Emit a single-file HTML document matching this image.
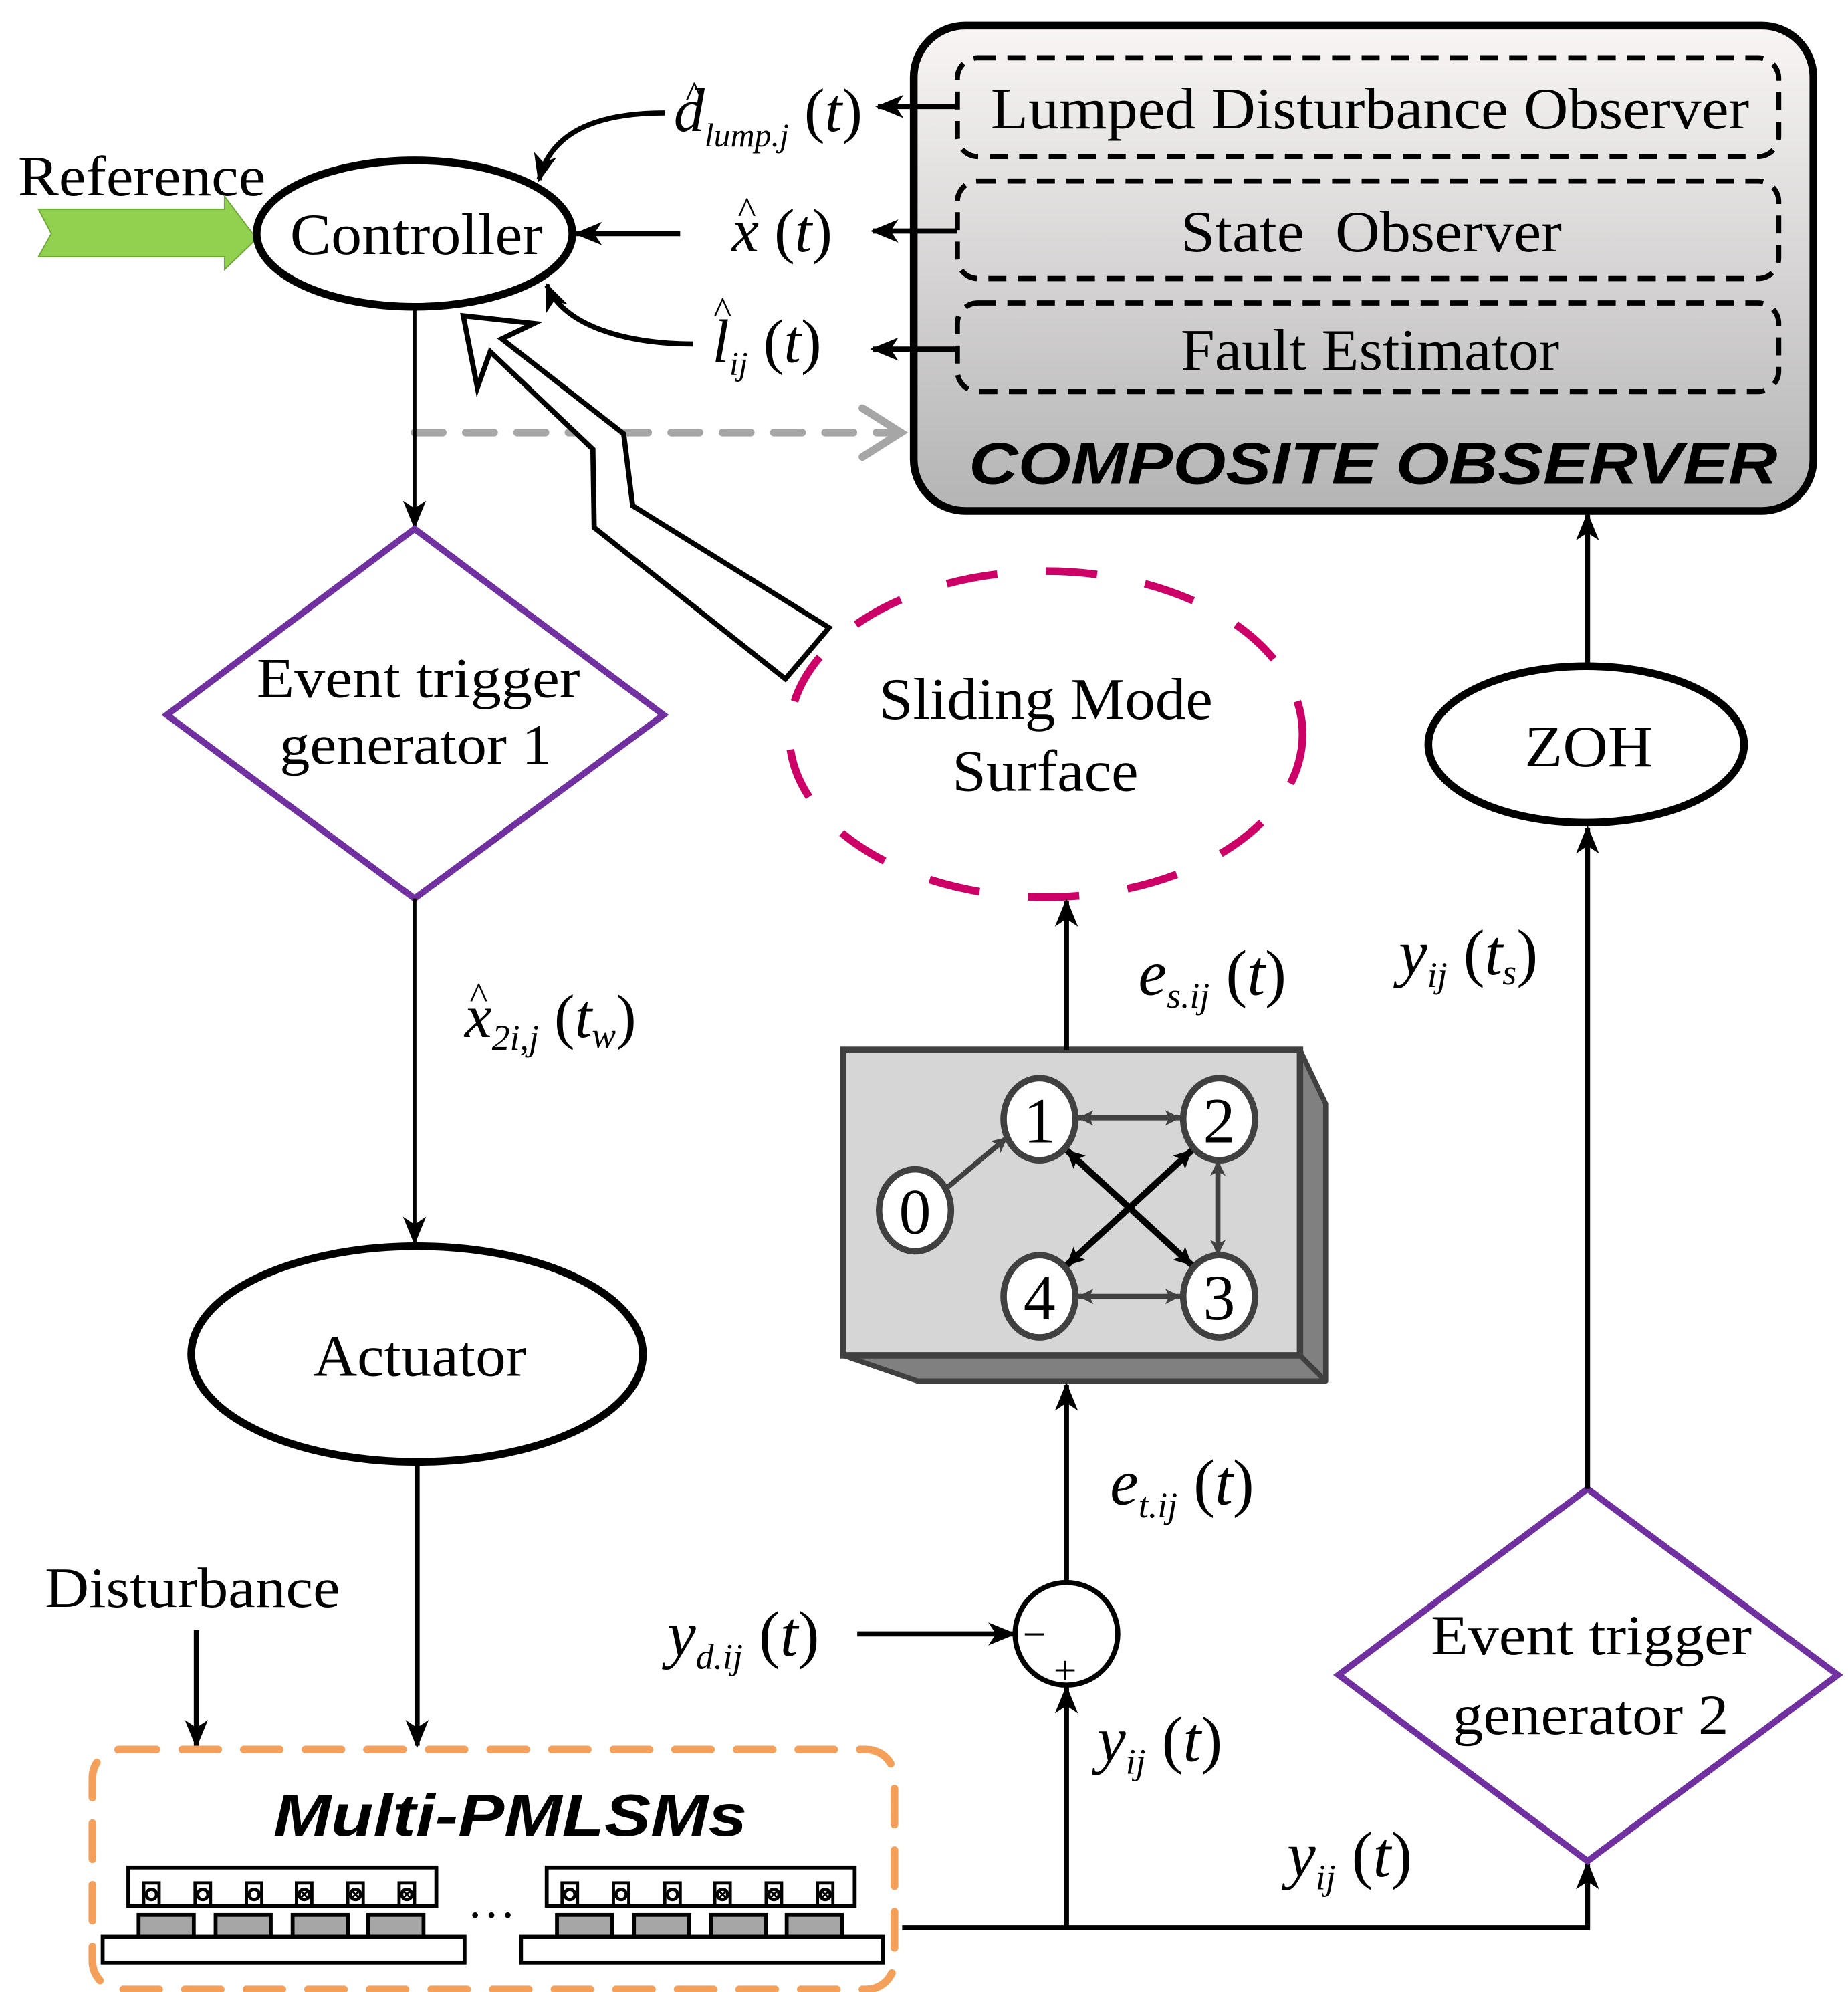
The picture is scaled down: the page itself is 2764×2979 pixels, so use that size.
<!DOCTYPE html>
<html><head><meta charset="utf-8"><style>
html,body{margin:0;padding:0;background:#fff}
svg{display:block}
text{font-family:"Liberation Serif",serif}
.it{font-style:italic}
</style></head><body>
<svg width="2764" height="2979" viewBox="0 0 1440 1552" xmlns="http://www.w3.org/2000/svg">
<defs>
<linearGradient id="g" x1="0" y1="0" x2="0" y2="1"><stop offset="0" stop-color="#f9f5f5"/><stop offset="1" stop-color="#b4b4b4"/></linearGradient>
<marker id="ab" markerWidth="22" markerHeight="22" refX="20" refY="11" orient="auto" markerUnits="userSpaceOnUse" viewBox="0 0 22 22"><path d="M0,2 L22,11 L0,20 L6,11 Z" fill="#000"/></marker>
<marker id="ag" markerWidth="14" markerHeight="14" refX="12" refY="7" orient="auto" markerUnits="userSpaceOnUse"><path d="M0,1 L12,7 L0,13 L3,7 Z" fill="#404040"/></marker>
<marker id="ag2" markerWidth="14" markerHeight="14" refX="2" refY="7" orient="auto" markerUnits="userSpaceOnUse"><path d="M14,1 L2,7 L14,13 L11,7 Z" fill="#404040"/></marker>
<marker id="ak" markerWidth="16" markerHeight="16" refX="14" refY="8" orient="auto" markerUnits="userSpaceOnUse"><path d="M0,1 L14,8 L0,15 L3,8 Z" fill="#000"/></marker>
<marker id="ak2" markerWidth="16" markerHeight="16" refX="2" refY="8" orient="auto" markerUnits="userSpaceOnUse"><path d="M16,1 L2,8 L16,15 L13,8 Z" fill="#000"/></marker>
</defs>

<rect x="712" y="20" width="701" height="378" rx="40" fill="url(#g)" stroke="#000" stroke-width="6"/>
<g fill="none" stroke="#000" stroke-width="4" stroke-dasharray="14,9">
<rect x="746" y="45" width="640" height="77" rx="16"/>
<rect x="746" y="141" width="640" height="76" rx="16"/>
<rect x="746" y="236" width="640" height="69" rx="16"/>
</g>
<g font-size="46" lengthAdjust="spacingAndGlyphs">
<text x="772" y="100" textLength="591" lengthAdjust="spacingAndGlyphs">Lumped Disturbance Observer</text>
<text x="920" y="196" textLength="297" lengthAdjust="spacingAndGlyphs" xml:space="preserve">State  Observer</text>
<text x="920" y="288" textLength="295" lengthAdjust="spacingAndGlyphs">Fault Estimator</text>
</g>
<text x="755" y="377" font-size="46" textLength="630" lengthAdjust="spacingAndGlyphs" font-weight="bold" font-style="italic" style="font-family:'Liberation Sans',sans-serif">COMPOSITE OBSERVER</text>

<g stroke="#000" stroke-width="4" fill="none">
<line x1="746" y1="83" x2="684" y2="83" marker-end="url(#ab)"/>
<line x1="746" y1="180" x2="680" y2="180" marker-end="url(#ab)"/>
<line x1="746" y1="272" x2="680" y2="272" marker-end="url(#ab)"/>
<line x1="530" y1="182" x2="449" y2="182" marker-end="url(#ab)"/>
<path d="M518 88 C470 88 430 100 420 140" marker-end="url(#ab)"/>
<path d="M540 268 C490 268 440 255 426 222" marker-end="url(#ab)"/>
</g>

<text x="525" y="102" font-size="48" class="it">d<tspan font-size="26" dy="12">lump.j</tspan><tspan font-size="48" dy="-12" font-style="normal"> (</tspan>t<tspan font-style="normal">)</tspan></text>
<text x="534" y="84" font-size="30">^</text>
<text x="570" y="196" font-size="48" class="it">x<tspan font-style="normal"> (</tspan>t<tspan font-style="normal">)</tspan></text>
<text x="575" y="174" font-size="30">^</text>
<text x="555" y="282" font-size="48" class="it">l<tspan font-size="26" dy="10">ij</tspan><tspan dy="-10" font-style="normal"> (</tspan>t<tspan font-style="normal">)</tspan></text>
<text x="556" y="252" font-size="30">^</text>

<text x="14" y="152" font-size="44" textLength="193" lengthAdjust="spacingAndGlyphs">Reference</text>
<polygon points="30,163 175,163 175,153 200,186 175,210 175,200 30,200 40,182" fill="#92d050" stroke="#6fa83a" stroke-width="1"/>
<ellipse cx="323" cy="182" rx="123" ry="57" fill="#fff" stroke="#000" stroke-width="6"/>
<text x="226" y="198" font-size="46" textLength="197" lengthAdjust="spacingAndGlyphs">Controller</text>

<line x1="323" y1="337" x2="700" y2="337" stroke="#a6a6a6" stroke-width="6" stroke-dasharray="22,18" stroke-linecap="round"/>
<polyline points="672,318 702,337 672,356" fill="none" stroke="#a6a6a6" stroke-width="6" stroke-linecap="round"/>

<line x1="323" y1="239" x2="323" y2="410" stroke="#000" stroke-width="3" marker-end="url(#ab)"/>

<polygon points="361,246 416,252 391,264 486,338 493,394 646,489 612,529 463,411 462,350 382,274 372,302" fill="#fff" stroke="#000" stroke-width="4"/>

<polygon points="323,412 517,557 323,700 130,557" fill="#fff" stroke="#7030a0" stroke-width="5"/>
<text x="200" y="543" font-size="44" textLength="252" lengthAdjust="spacingAndGlyphs">Event trigger</text>
<text x="218" y="595" font-size="44" textLength="212" lengthAdjust="spacingAndGlyphs">generator 1</text>

<ellipse cx="815" cy="572" rx="200" ry="127" fill="#fff" stroke="#cc0066" stroke-width="6" stroke-dasharray="40,38"/>
<text x="685" y="560" font-size="46" textLength="260" lengthAdjust="spacingAndGlyphs">Sliding Mode</text>
<text x="742" y="616" font-size="46" textLength="145" lengthAdjust="spacingAndGlyphs">Surface</text>

<line x1="323" y1="700" x2="323" y2="968" stroke="#000" stroke-width="3" marker-end="url(#ab)"/>
<text x="362" y="808" font-size="48" class="it">x<tspan font-size="28" dy="10">2i,j</tspan><tspan dy="-10" font-style="normal"> (</tspan>t<tspan font-size="28" dy="8">w</tspan><tspan dy="-8" font-style="normal">)</tspan></text>
<text x="366" y="786" font-size="30">^</text>

<ellipse cx="325" cy="1055" rx="176" ry="84" fill="#fff" stroke="#000" stroke-width="6"/>
<text x="244" y="1072" font-size="46" textLength="166" lengthAdjust="spacingAndGlyphs">Actuator</text>
<line x1="325" y1="1140" x2="325" y2="1360" stroke="#000" stroke-width="4" marker-end="url(#ab)"/>

<text x="35" y="1252" font-size="44" textLength="230" lengthAdjust="spacingAndGlyphs">Disturbance</text>
<line x1="153" y1="1270" x2="153" y2="1360" stroke="#000" stroke-width="4" marker-end="url(#ab)"/>

<rect x="72" y="1363" width="625" height="187" rx="22" fill="none" stroke="#f4a05a" stroke-width="6" stroke-dasharray="28,20" stroke-linecap="round"/>
<text x="213" y="1430" font-size="46" textLength="369" lengthAdjust="spacingAndGlyphs" font-weight="bold" font-style="italic" style="font-family:'Liberation Sans',sans-serif">Multi-PMLSMs</text>
<g stroke="#000" stroke-width="3">
<g id="m">
<rect x="100" y="1455" width="240" height="30" fill="#fff"/>
<rect x="108" y="1492" width="43" height="17" fill="#a6a6a6"/>
<rect x="168" y="1492" width="43" height="17" fill="#a6a6a6"/>
<rect x="228" y="1492" width="43" height="17" fill="#a6a6a6"/>
<rect x="287" y="1492" width="43" height="17" fill="#a6a6a6"/>
<rect x="80" y="1509" width="282" height="20" fill="#fff"/>
<g fill="#fff" stroke-width="2.5">
<rect x="112" y="1467" width="12" height="18"/><rect x="152" y="1467" width="12" height="18"/><rect x="192" y="1467" width="12" height="18"/>
<rect x="231" y="1467" width="12" height="18"/><rect x="271" y="1467" width="12" height="18"/><rect x="311" y="1467" width="12" height="18"/>
<circle cx="118" cy="1476" r="4"/><circle cx="158" cy="1476" r="4"/><circle cx="198" cy="1476" r="4"/>
<circle cx="237" cy="1476" r="4"/><circle cx="277" cy="1476" r="4"/><circle cx="317" cy="1476" r="4"/>
<path d="M234,1473 l6,6 M240,1473 l-6,6 M274,1473 l6,6 M280,1473 l-6,6 M314,1473 l6,6 M320,1473 l-6,6" fill="none" stroke-width="1.5"/>
</g>
</g>
<use href="#m" transform="translate(326,0)"/>
</g>
<text x="383" y="1494" font-size="38" text-anchor="middle">…</text>

<polygon points="657,1056 1013,1056 1033,1076 715,1076" fill="#808080" stroke="#404040" stroke-width="4" stroke-linejoin="round"/>
<polygon points="1013,818 1033,860 1033,1076 1013,1056" fill="#808080" stroke="#404040" stroke-width="4" stroke-linejoin="round"/>
<rect x="657" y="818" width="356" height="238" fill="#d6d6d6" stroke="#404040" stroke-width="5"/>
<g fill="none">
<line x1="736" y1="927" x2="785" y2="886" stroke="#404040" stroke-width="4" marker-end="url(#ag)"/>
<line x1="840" y1="871" x2="920" y2="871" stroke="#404040" stroke-width="4" marker-start="url(#ag2)" marker-end="url(#ag)"/>
<line x1="840" y1="1010" x2="920" y2="1010" stroke="#404040" stroke-width="4" marker-start="url(#ag2)" marker-end="url(#ag)"/>
<line x1="949" y1="904" x2="949" y2="978" stroke="#404040" stroke-width="4" marker-start="url(#ag2)" marker-end="url(#ag)"/>
<line x1="831" y1="896" x2="929" y2="986" stroke="#000" stroke-width="5" marker-start="url(#ak2)" marker-end="url(#ak)"/>
<line x1="929" y1="896" x2="831" y2="986" stroke="#000" stroke-width="5" marker-start="url(#ak2)" marker-end="url(#ak)"/>
</g>
<g fill="#fff" stroke="#404040" stroke-width="5">
<ellipse cx="810" cy="872" rx="28" ry="32"/><ellipse cx="950" cy="872" rx="28" ry="32"/>
<ellipse cx="713" cy="943" rx="28" ry="32"/><ellipse cx="810" cy="1010" rx="28" ry="32"/>
<ellipse cx="950" cy="1010" rx="28" ry="32"/>
</g>
<g font-size="50" text-anchor="middle">
<text x="810" y="890">1</text><text x="950" y="890">2</text><text x="713" y="961">0</text><text x="810" y="1028">4</text><text x="950" y="1028">3</text>
</g>

<line x1="831" y1="818" x2="831" y2="702" stroke="#000" stroke-width="4" marker-end="url(#ab)"/>
<text x="887" y="775" font-size="50" class="it">e<tspan font-size="28" dy="10">s.ij</tspan><tspan dy="-10" font-style="normal"> (</tspan>t<tspan font-style="normal">)</tspan></text>

<line x1="831" y1="1232" x2="831" y2="1079" stroke="#000" stroke-width="4" marker-end="url(#ab)"/>
<text x="865" y="1172" font-size="50" class="it">e<tspan font-size="28" dy="10">t.ij</tspan><tspan dy="-10" font-style="normal"> (</tspan>t<tspan font-style="normal">)</tspan></text>

<circle cx="831" cy="1273" r="40" fill="#fff" stroke="#000" stroke-width="4"/>
<text x="806" y="1284" font-size="32" text-anchor="middle">−</text>
<text x="830" y="1312" font-size="32" text-anchor="middle">+</text>
<line x1="668" y1="1273" x2="790" y2="1273" stroke="#000" stroke-width="4" marker-end="url(#ab)"/>
<text x="520" y="1290" font-size="50" class="it">y<tspan font-size="28" dy="10">d.ij</tspan><tspan dy="-10" font-style="normal"> (</tspan>t<tspan font-style="normal">)</tspan></text>

<line x1="831" y1="1502" x2="831" y2="1315" stroke="#000" stroke-width="4" marker-end="url(#ab)"/>
<text x="855" y="1372" font-size="50" class="it">y<tspan font-size="28" dy="10">ij</tspan><tspan dy="-10" font-style="normal"> (</tspan>t<tspan font-style="normal">)</tspan></text>

<polyline points="703,1502 1237,1502 1237,1452" fill="none" stroke="#000" stroke-width="4" marker-end="url(#ab)"/>
<text x="1003" y="1462" font-size="50" class="it">y<tspan font-size="28" dy="10">ij</tspan><tspan dy="-10" font-style="normal"> (</tspan>t<tspan font-style="normal">)</tspan></text>

<polygon points="1237,1160 1432,1305 1237,1450 1043,1305" fill="#fff" stroke="#7030a0" stroke-width="5"/>
<text x="1115" y="1289" font-size="44" textLength="250" lengthAdjust="spacingAndGlyphs">Event trigger</text>
<text x="1132" y="1351" font-size="44" textLength="215" lengthAdjust="spacingAndGlyphs">generator 2</text>

<line x1="1237" y1="1160" x2="1237" y2="645" stroke="#000" stroke-width="4" marker-end="url(#ab)"/>
<text x="1090" y="759" font-size="50" class="it">y<tspan font-size="28" dy="10">ij</tspan><tspan dy="-10" font-style="normal"> (</tspan>t<tspan font-size="28" dy="8">s</tspan><tspan dy="-8" font-style="normal">)</tspan></text>

<ellipse cx="1236" cy="580" rx="123" ry="61" fill="#fff" stroke="#000" stroke-width="6"/>
<text x="1188" y="597" font-size="46" textLength="100" lengthAdjust="spacingAndGlyphs">ZOH</text>
<line x1="1237" y1="518" x2="1237" y2="401" stroke="#000" stroke-width="4" marker-end="url(#ab)"/>
</svg>
</body></html>
